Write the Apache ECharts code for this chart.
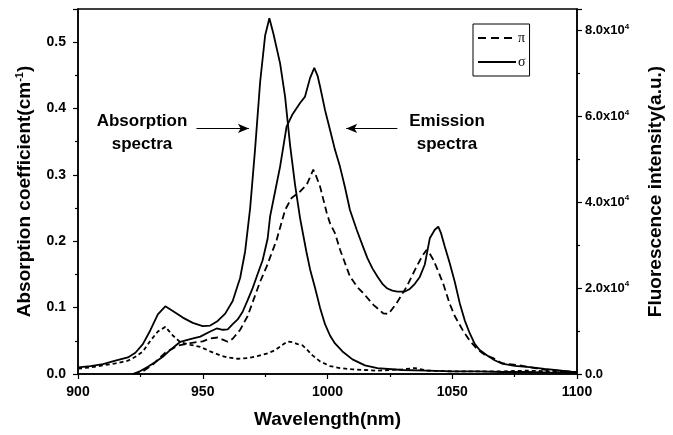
<!DOCTYPE html>
<html>
<head>
<meta charset="utf-8">
<script src="https://cdn.jsdelivr.net/npm/echarts@6/dist/echarts.min.js"></script>
<style>
html, body { margin: 0; padding: 0; background: #fff; }
#chart { width: 673px; height: 435px; }
</style>
</head>
<body>
<div id="chart"></div>
<script>
// absorption (left axis, cm-1) : [wavelength, value]
var absSigma = [[900,0.010],[905,0.012],[910,0.015],[915,0.020],[920,0.025],[923,0.032],[926,0.045],[929,0.066],[932,0.090],[935,0.102],[938,0.095],[942,0.085],[946,0.077],[950,0.072],[953,0.073],[956,0.080],[959,0.091],[962,0.110],[965,0.145],[967,0.185],[969,0.250],[971,0.340],[973,0.440],[975,0.510],[976.7,0.536],[978.3,0.513],[981,0.468],[983,0.418],[985,0.345],[987,0.285],[989,0.235],[991.5,0.185],[993,0.158],[995,0.130],[997,0.100],[999,0.075],[1001,0.058],[1003,0.046],[1006,0.034],[1010,0.022],[1015,0.013],[1020,0.009],[1030,0.006],[1040,0.005],[1050,0.004],[1060,0.004],[1070,0.003],[1080,0.003],[1090,0.002],[1100,0.002]];
var absPi = [[900,0.008],[905,0.010],[910,0.013],[915,0.016],[920,0.020],[923,0.026],[926,0.034],[929,0.050],[932,0.064],[935,0.071],[938,0.058],[941,0.048],[945,0.044],[949,0.041],[953,0.034],[957,0.028],[960,0.025],[964,0.023],[968,0.024],[972,0.027],[976,0.031],[979,0.036],[982,0.044],[984,0.049],[986,0.048],[988,0.045],[990,0.043],[992,0.036],[994,0.028],[997,0.019],[1001,0.012],[1005,0.009],[1010,0.007],[1020,0.005],[1030,0.007],[1035,0.009],[1040,0.005],[1050,0.004],[1060,0.004],[1070,0.004],[1080,0.005],[1090,0.004],[1100,0.003]];

// fluorescence (right axis, a.u.)
var emSigma = [[922,0],[925,700],[928,1700],[931,2800],[934,4000],[937,5600],[941,7500],[945,8100],[949,8700],[953,9900],[955.6,10600],[958,10300],[960,10400],[962,11600],[964,12700],[966,14500],[968,17200],[970,20000],[972,23300],[974,26500],[976,31500],[977,36700],[979,42500],[981,48300],[983.6,57600],[986,60500],[989,63100],[991,64600],[993,68900],[994.7,71300],[996,69500],[997,67000],[999,61500],[1001,56900],[1003,52200],[1005,48300],[1007,43500],[1009,38200],[1011.7,33600],[1014,30000],[1016,27000],[1018,24600],[1020,22700],[1022,21000],[1024,19900],[1026,19400],[1028,19200],[1031,19200],[1033,19800],[1035,21000],[1037,22600],[1039,25500],[1041,31600],[1043,33600],[1044.4,34300],[1045.5,32800],[1047,29700],[1049,25800],[1051,21500],[1053,16500],[1055,12500],[1057,9500],[1059,7000],[1061,5600],[1064,4300],[1067,3200],[1070,2400],[1075,1900],[1081,1600],[1087,1200],[1092,900],[1100,400]];
var emPi = [[922,0],[926,600],[930,2200],[935,5000],[940,6600],[945,7200],[950,7600],[953,8300],[956,8500],[958,8000],[960,7500],[962,8200],[965,10300],[968,13500],[970.3,17200],[973,21500],[975.6,25000],[979.6,31200],[983,38200],[985.6,41000],[989,42500],[991.7,44100],[994.3,47600],[995.5,46000],[997,43700],[999.7,37500],[1001,35100],[1003,32800],[1005,29000],[1009,22700],[1012,20200],[1014.4,18800],[1018.4,16100],[1022.4,14100],[1024.5,14000],[1027.7,16500],[1031.7,20300],[1035.7,25000],[1038,27500],[1039.7,28900],[1041,28000],[1042.4,26600],[1044.4,23900],[1046.4,21000],[1049,16300],[1051,13500],[1054.4,10000],[1057,7800],[1060,5800],[1063,4500],[1066.4,3700],[1070,2500],[1076,2100],[1082,1500],[1088,900],[1094,700],[1100,400]];

var legendNames = ['π', 'σ'];

var myChart = echarts.init(document.getElementById('chart'));

var font = '"Liberation Sans", Arial, sans-serif';
var tickFont = { color: '#000', fontFamily: font, fontWeight: 'bold', fontSize: 14 };
var titleFont = { color: '#000', fontFamily: font, fontWeight: 'bold', fontSize: 19 };
var axisLine = { show: true, lineStyle: { color: '#000', width: 1.5 } };
var majorTick = { show: true, length: 5, lineStyle: { color: '#000', width: 1.2 } };
var minorTick = { show: true, splitNumber: 2, length: 3, lineStyle: { color: '#000', width: 1.2 } };

function curve(name, data, yIdx, dash) {
    return {
        name: name,
        type: 'line',
        yAxisIndex: yIdx,
        data: data,
        symbol: 'none',
        showSymbol: false,
        lineStyle: { color: '#000', width: 1.8, type: dash || 'solid' },
        itemStyle: { color: '#000' }
    };
}

var absSigmaSeries = curve('σ', absSigma, 0);
// arrows pointing at the two groups of curves
absSigmaSeries.markLine = {
    silent: true,
    symbol: ['none', 'arrow'],
    symbolSize: [7, 11],
    label: { show: false },
    lineStyle: { color: '#000', width: 1, type: 'solid' },
    data: [
        [{ coord: [947.5, 0.37] }, { coord: [968.5, 0.37] }],
        [{ coord: [1028, 0.37] }, { coord: [1007.5, 0.37] }]
    ]
};

var option = {
    animation: false,
    backgroundColor: '#fff',
    grid: { left: 78, right: 96, top: 9, bottom: 61, show: true, borderColor: '#000', borderWidth: 1.5 },
    legend: {
        data: [
            { name: legendNames[0], lineStyle: { type: [8, 5], width: 1.8 } },
            { name: legendNames[1] }
        ],
        orient: 'vertical',
        left: 473,
        top: 24,
        itemWidth: 38,
        itemHeight: 10,
        itemGap: 10,
        padding: [7, 4, 7, 4],
        borderColor: '#000',
        borderWidth: 1,
        itemStyle: { opacity: 0 },
        textStyle: { color: '#000', fontFamily: '"Liberation Serif", serif', fontSize: 14, padding: [0, 0, 0, -3] }
    },
    xAxis: {
        type: 'value',
        min: 900,
        max: 1100,
        interval: 50,
        name: 'Wavelength(nm)',
        nameLocation: 'middle',
        nameGap: 36,
        nameTextStyle: titleFont,
        axisLine: axisLine,
        axisTick: majorTick,
        minorTick: minorTick,
        splitLine: { show: false },
        axisLabel: Object.assign({ margin: 11, formatter: function (v) { return String(v); } }, tickFont)
    },
    yAxis: [{
        type: 'value',
        position: 'left',
        min: 0,
        max: 0.55,
        interval: 0.1,
        name: '{a|Absorption coefficient(cm}{s|-1}{a|)}',
        nameLocation: 'middle',
        nameGap: 42,
        nameRotate: 90,
        nameTextStyle: {
            rich: {
                a: titleFont,
                s: { color: '#000', fontFamily: font, fontWeight: 'bold', fontSize: 11, padding: [0, 0, 11, 0] }
            }
        },
        axisLine: axisLine,
        axisTick: majorTick,
        minorTick: minorTick,
        splitLine: { show: false },
        axisLabel: Object.assign({
            showMaxLabel: false,
            margin: 12,
            formatter: function (v) { return v.toFixed(1); }
        }, tickFont)
    }, {
        type: 'value',
        position: 'right',
        min: 0,
        max: 85000,
        interval: 20000,
        name: 'Fluorescence intensity(a.u.)',
        nameLocation: 'middle',
        nameGap: 69,
        nameRotate: 90,
        nameTextStyle: titleFont,
        axisLine: axisLine,
        axisTick: majorTick,
        minorTick: minorTick,
        splitLine: { show: false },
        axisLabel: {
            showMaxLabel: false,
            formatter: function (v) {
                if (v === 0) return '{a|0.0}';
                return '{a|' + (v / 10000).toFixed(1) + 'x10}{s|4}';
            },
            rich: {
                a: { color: '#000', fontFamily: font, fontWeight: 'bold', fontSize: 13 },
                s: { color: '#000', fontFamily: font, fontWeight: 'bold', fontSize: 8, padding: [0, 0, 8, 0] }
            }
        }
    }],
    graphic: [{
        type: 'text',
        x: 142,
        y: 110,
        style: { text: 'Absorption\nspectra', fill: '#000', font: 'bold 17px ' + font, align: 'center', verticalAlign: 'top', lineHeight: 23 }
    }, {
        type: 'text',
        x: 447,
        y: 110,
        style: { text: 'Emission\nspectra', fill: '#000', font: 'bold 17px ' + font, align: 'center', verticalAlign: 'top', lineHeight: 23 }
    }],
    series: [
        curve('π', emPi, 1, [7, 4]),
        absSigmaSeries,
        curve('π', absPi, 0, [4, 3]),
        curve('σ', emSigma, 1)
    ]
};

myChart.setOption(option);
window.onresize = myChart.resize;
</script>
</body>
</html>
